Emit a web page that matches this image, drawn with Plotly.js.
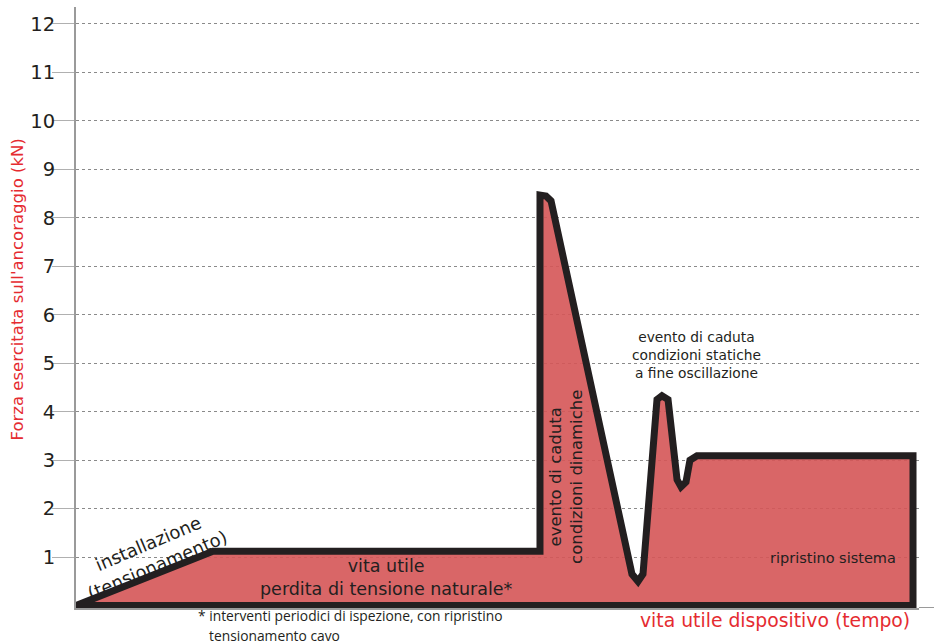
<!DOCTYPE html>
<html>
<head>
<meta charset="utf-8">
<script src="https://cdn.plot.ly/plotly-3.0.1.min.js"></script>
<style>html,body{margin:0;padding:0;background:#fff;}#chart{width:934px;height:644px;}</style>
</head>
<body>
<div id="chart"></div>
<script>
// time axis (arbitrary units 0-100) and anchoring force (kN)
const timeUnits = [0, 16.25, 55.04, 55.04, 55.75, 56.35, 65.95, 66.67, 67.26, 68.92, 69.51, 70.23, 71.3, 71.77, 72.36, 72.83, 73.67, 99.29, 99.29, 0];
const forceKN   = [0, 1.12, 1.12, 8.47, 8.45, 8.35, 0.65, 0.5, 0.65, 4.25, 4.33, 4.25, 2.6, 2.45, 2.55, 3.0, 3.09, 3.09, 0, 0];
const yTicks = [1, 2, 3, 4, 5, 6, 7, 8, 9, 10, 11, 12];
const yTickLabels = ["1", "2", "3", "4", "5", "6", "7", "8", "9", "10", "11", "12"];

const yTitle = "Forza esercitata sull'ancoraggio (kN)";
const xTitle = "vita utile dispositivo (tempo)";

const dark = "#231f20";
const red = "#e52b30";
const txtFont = "DejaVu Sans, Verdana, sans-serif";

const trace = {
  x: timeUnits, y: forceKN,
  type: "scatter", mode: "lines",
  fill: "toself",
  fillcolor: "rgba(213,85,86,0.9)",
  line: {color: dark, width: 7},
  hoverinfo: "skip"
};

const layout = {
  width: 934, height: 644,
  margin: {l: 76, r: 15, t: 7, b: 36},
  paper_bgcolor: "#fff", plot_bgcolor: "#fff",
  showlegend: false,
  xaxis: {
    range: [0, 100], showticklabels: false, ticks: "",
    showgrid: false, zeroline: false,
    showline: true, linecolor: "#9a9a9a", linewidth: 2,
    fixedrange: true
  },
  yaxis: {
    range: [-0.05, 12.35],
    tickvals: yTicks, ticktext: yTickLabels,
    ticks: "outside", ticklen: 22, tickcolor: "#b0b0b0", tickwidth: 1,
    ticklabelstandoff: -7,
    tickfont: {family: txtFont, size: 19.5, color: dark},
    showgrid: true, gridcolor: "#8a8a8a", gridwidth: 1, griddash: "dot",
    zeroline: false,
    showline: true, linecolor: "#9a9a9a", linewidth: 2,
    fixedrange: true
  },
  shapes: [
    {type: "line", xref: "paper", yref: "y", x0: 1, x1: 1.018, y0: -0.05, y1: -0.05,
     line: {color: "#9a9a9a", width: 2}}
  ],
  annotations: [
    {xref: "paper", yref: "paper", x: -0.07, y: 0.53, xanchor: "center", yanchor: "middle",
     text: yTitle, textangle: -90,
     showarrow: false, font: {family: txtFont, size: 16.5, color: red}},
    {xref: "paper", yref: "paper", x: 0.829, y: -0.02, xanchor: "center", yanchor: "middle",
     text: xTitle, showarrow: false,
     font: {family: txtFont, size: 18.8, color: red}},
    {xref: "x", yref: "y", x: 9.1, y: 1.06, xanchor: "center", yanchor: "middle",
     text: "installazione<br>(tensionamento)", textangle: -23,
     showarrow: false, font: {family: txtFont, size: 18, color: dark}},
    {xref: "x", yref: "y", x: 36.8, y: 0.58, xanchor: "center", yanchor: "middle",
     text: "vita utile<br>perdita di tensione naturale*",
     showarrow: false, font: {family: txtFont, size: 17.5, color: dark}},
    {xref: "x", yref: "y", x: 58.1, y: 2.65, xanchor: "center", yanchor: "middle",
     text: "evento di caduta<br>condizioni dinamiche", textangle: -90,
     showarrow: false, font: {family: txtFont, size: 16.5, color: dark}},
    {xref: "x", yref: "y", x: 73.6, y: 5.16, xanchor: "center", yanchor: "middle",
     text: "evento di caduta<br>condizioni statiche<br>a fine oscillazione",
     showarrow: false, font: {family: txtFont, size: 13.8, color: dark}},
    {xref: "x", yref: "y", x: 89.8, y: 0.99, xanchor: "center", yanchor: "middle",
     text: "ripristino sistema",
     showarrow: false, font: {family: txtFont, size: 14.5, color: dark}},
    {xref: "paper", yref: "paper", x: 0.1425, y: -0.0125, xanchor: "left", yanchor: "middle",
     text: "* interventi periodici di ispezione, con ripristino",
     showarrow: false, font: {family: "Open Sans, sans-serif", size: 13.8, color: dark}},
    {xref: "paper", yref: "paper", x: 0.155, y: -0.046, xanchor: "left", yanchor: "middle",
     text: "tensionamento cavo",
     showarrow: false, font: {family: "Open Sans, sans-serif", size: 13.8, color: dark}}
  ]
};

Plotly.newPlot("chart", [trace], layout, {staticPlot: true, displayModeBar: false});
</script>
</body>
</html>
